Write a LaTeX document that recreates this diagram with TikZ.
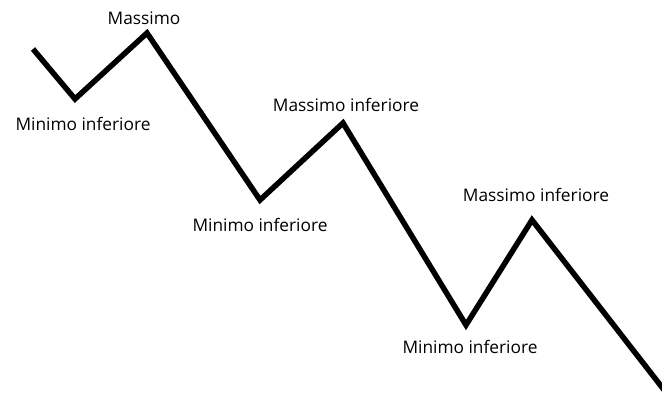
\documentclass[tikz,border=0pt]{standalone}
\usepackage{fontspec}
\setmainfont{Open Sans}
\begin{document}
\begin{tikzpicture}[x=1pt,y=-1pt,
  lbl/.style={inner sep=0pt,font=\fontsize{17.3}{19}\selectfont},
  zig/.style={line width=5.5pt,black}]
\useasboundingbox (0,0) rectangle (662,399);
\coordinate (p0) at (33,49);
\coordinate (p1) at (75,99);
\coordinate (p2) at (147,33);
\coordinate (p3) at (260,200);
\coordinate (p4) at (343,123);
\coordinate (p5) at (466,325);
\coordinate (p6) at (532,220);
\coordinate (p7) at (668,395);
\draw[zig] (p0) -- (p1) -- (p2) -- (p3) -- (p4) -- (p5) -- (p6) -- (p7);
\node[lbl] (l1) at (144,18) {Massimo};
\node[lbl] (l2) at (83,124) {Minimo inferiore};
\node[lbl] (l3) at (346,105) {Massimo inferiore};
\node[lbl] (l4) at (260,225) {Minimo inferiore};
\node[lbl] (l5) at (536,195) {Massimo inferiore};
\node[lbl] (l6) at (470,347) {Minimo inferiore};
\end{tikzpicture}
\end{document}
